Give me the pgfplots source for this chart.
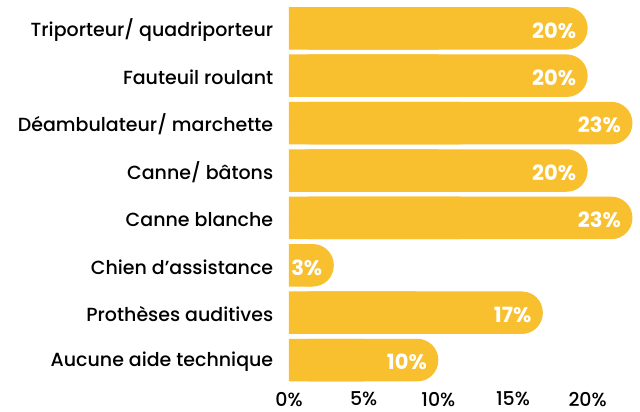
\documentclass[border=0pt]{standalone}
\usepackage{pgfplots}
\pgfplotsset{compat=1.18}
\usepackage{pgfplotstable}
\usepackage{fontspec}
\setmainfont{Poppins}[UprightFont=* Medium, BoldFont=* Bold]
\definecolor{baryellow}{HTML}{F8BF2F}
\pgfplotstableread{
v y
20 0
20 1
23 2
20 3
23 4
3 5
17 6
10 7
}\datatable
\begin{document}
\begin{tikzpicture}
\useasboundingbox (0,0) rectangle (640pt,412pt);
\begin{axis}[
  at={(289pt,28.2pt)}, anchor=south west,
  scale only axis,
  width=350.9pt, height=379.2pt,
  xmin=0, xmax=23.5,
  ymin=-0.5, ymax=7.5,
  y dir=reverse,
  xbar,
  bar width=42.5pt,
  axis line style={draw=none},
  tick style={draw=none},
  xtick={0,5,10,15,20},
  xticklabel={\pgfmathprintnumber[assume math mode=true]{\tick}\%},
  xticklabel style={font=\fontsize{19}{21}\selectfont, inner sep=0pt, yshift=-8pt},
  ytick={0,...,7},
  yticklabels={Triporteur/ quadriporteur, Fauteuil roulant, Déambulateur/ marchette, Canne/ bâtons, Canne blanche, Chien d’assistance, Prothèses auditives, Aucune aide technique},
  yticklabel style={font=\fontsize{19}{21}\selectfont, xshift=-8pt, yshift=-1.5pt},
]
\addplot[fill=baryellow, draw=none, bar shift=0pt, rounded corners=21pt,
  point meta=x,
  nodes near coords={\pgfmathprintnumber[assume math mode=true]{\pgfplotspointmeta}\%},
  nodes near coords style={anchor=east, xshift=-8pt, yshift=-2pt, text=white, font=\fontsize{21}{23}\selectfont\bfseries}]
  table[x=v, y=y] {\datatable};
\addplot[fill=baryellow, draw=none, bar shift=0pt]
  table[x expr=\thisrow{v}*0.5, y=y] {\datatable};
\end{axis}
\end{tikzpicture}
\end{document}
